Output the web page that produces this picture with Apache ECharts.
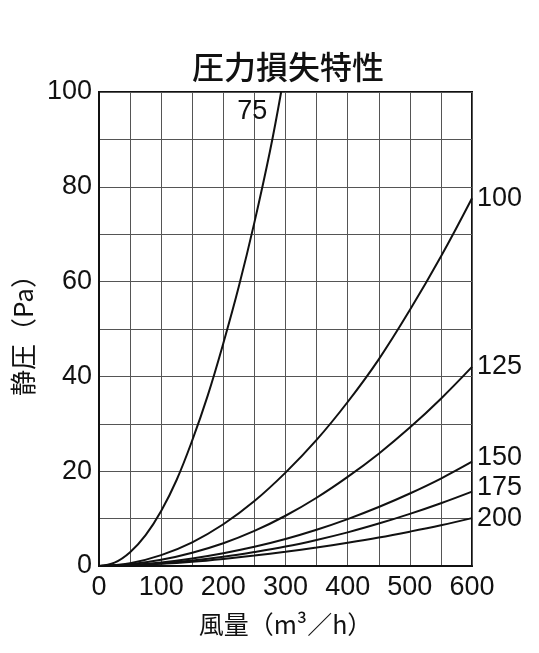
<!DOCTYPE html>
<html>
<head>
<meta charset="utf-8">
<script src="https://cdn.jsdelivr.net/npm/echarts@6/dist/echarts.min.js"></script>
<style>
  html, body { margin: 0; padding: 0; background: #fff; }
  #chart { width: 539px; height: 653px; }
</style>
</head>
<body>
<div id="chart"></div>
<script>
// 風量 (m3/h) sample points
var flow75 = [0, 25, 50, 75, 100, 125, 150, 175, 200, 225, 250, 275, 293];
var flowStd = [0, 50, 100, 150, 200, 250, 300, 350, 400, 450, 500, 550, 600];

// 静圧 (Pa) per duct size
var pa75  = [0, 0.7, 2.9, 6.5, 11.6, 18.2, 26.5, 36, 47, 59, 72.5, 87.5, 100];
var pa100 = [0, 0.6, 2.3, 5.0, 8.8, 13.7, 19.7, 26.6, 34.6, 43.6, 54, 65.3, 77.6];
var pa125 = [0, 0.35, 1.3, 2.8, 4.8, 7.4, 10.6, 14.4, 18.8, 23.7, 29.2, 35.3, 42];
var pa150 = [0, 0.2, 0.75, 1.6, 2.7, 4.05, 5.7, 7.65, 9.9, 12.45, 15.3, 18.45, 22];
var pa175 = [0, 0.15, 0.55, 1.15, 1.95, 2.95, 4.1, 5.5, 7.1, 8.95, 11, 13.25, 15.7];
var pa200 = [0, 0.15, 0.45, 0.9, 1.5, 2.2, 3.0, 3.9, 4.9, 6.0, 7.25, 8.6, 10.1];

var sizes = ['75', '100', '125', '150', '175', '200'];

var numFont = '"Liberation Sans", Arial, sans-serif';
var cjkFont = '"Noto Sans CJK JP", "Liberation Sans", sans-serif';

function pairs(xs, ys) {
    return xs.map(function (x, i) { return [x, ys[i]]; });
}

function curve(name, xs, ys, labelOffset) {
    return {
        name: name,
        type: 'line',
        data: pairs(xs, ys),
        smooth: 0.4,
        showSymbol: false,
        silent: true,
        lineStyle: { color: '#111', width: 2 },
        endLabel: {
            show: true,
            formatter: name,
            color: '#111',
            fontSize: 27,
            fontFamily: numFont,
            distance: 5,
            offset: labelOffset || [0, 0]
        }
    };
}

var chart = echarts.init(document.getElementById('chart'));

var option = {
    backgroundColor: '#fff',
    animation: false,
    title: {
        text: '圧力損失特性',
        left: 283,
        top: 46,
        textAlign: 'center',
        textStyle: { fontFamily: cjkFont, fontSize: 32, fontWeight: 500, color: '#111' }
    },
    grid: {
        left: 99,
        right: 67,
        top: 92,
        bottom: 87,
        show: true,
        borderColor: '#111',
        borderWidth: 2
    },
    xAxis: {
        type: 'value',
        min: 0,
        max: 600,
        interval: 100,
        name: '風量（m³／h）',
        nameLocation: 'middle',
        nameGap: 46,
        nameTextStyle: { fontFamily: cjkFont, fontSize: 25, color: '#111' },
        axisLine: { show: true, lineStyle: { color: '#111', width: 2 } },
        axisTick: { show: false },
        axisLabel: { fontFamily: numFont, fontSize: 27, color: '#111', margin: 8 },
        splitLine: { show: true, lineStyle: { color: '#555', width: 1 } },
        minorTick: { show: false, splitNumber: 2 },
        minorSplitLine: { show: true, lineStyle: { color: '#555', width: 1 } }
    },
    yAxis: {
        type: 'value',
        min: 0,
        max: 100,
        interval: 20,
        name: '静圧（Pa）',
        nameLocation: 'middle',
        nameRotate: 90,
        nameGap: 55,
        nameTextStyle: { fontFamily: cjkFont, fontSize: 26, color: '#111' },
        axisLine: { show: true, lineStyle: { color: '#111', width: 2 } },
        axisTick: { show: false },
        axisLabel: { fontFamily: numFont, fontSize: 27, color: '#111', margin: 7 },
        splitLine: { show: true, lineStyle: { color: '#555', width: 1 } },
        minorTick: { show: false, splitNumber: 2 },
        minorSplitLine: { show: true, lineStyle: { color: '#555', width: 1 } }
    },
    series: [
        curve(sizes[0], flow75, pa75, [-49, 20]),
        curve(sizes[1], flowStd, pa100),
        curve(sizes[2], flowStd, pa125),
        curve(sizes[3], flowStd, pa150, [0, -4]),
        curve(sizes[4], flowStd, pa175, [0, -4]),
        curve(sizes[5], flowStd, pa200)
    ]
};

chart.setOption(option);
</script>
</body>
</html>
